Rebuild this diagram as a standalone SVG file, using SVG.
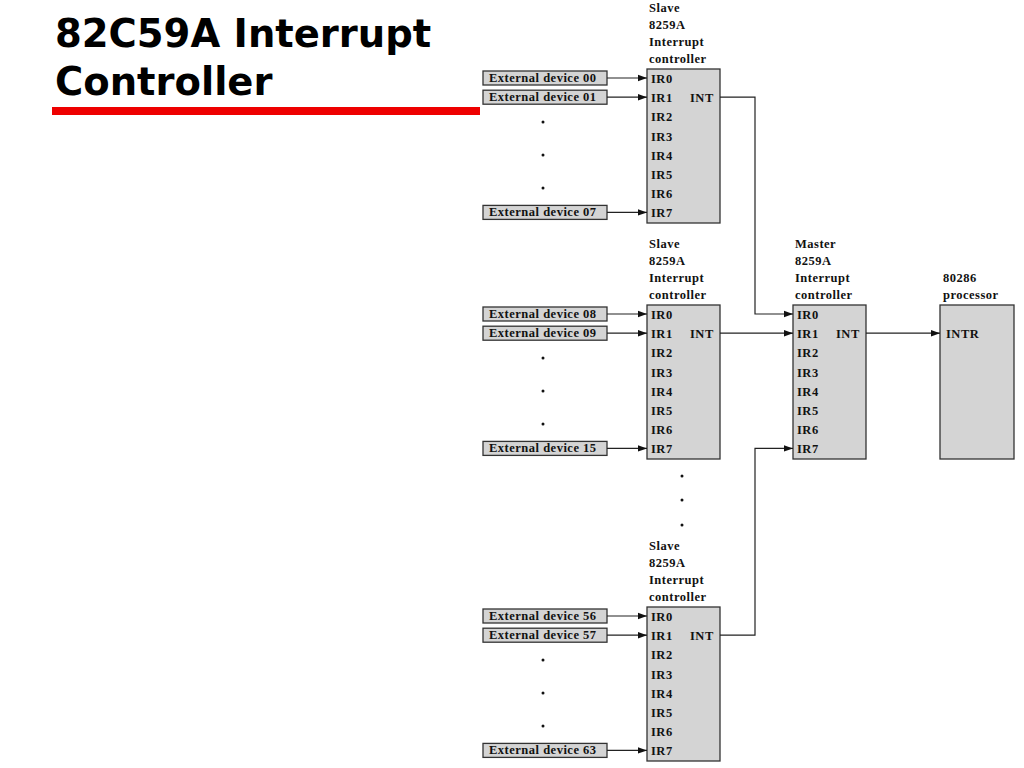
<svg xmlns="http://www.w3.org/2000/svg" width="1024" height="768" viewBox="0 0 1024 768">
<defs>
<style>
.title{font-family:"DejaVu Sans",Verdana,sans-serif;font-weight:bold;font-size:38.5px;fill:#000}
.t{font-family:"Liberation Serif","Times New Roman",serif;font-weight:bold;font-size:12.5px;letter-spacing:0.5px;fill:#111}
.box{fill:#d4d4d4;stroke:#333;stroke-width:1.3}
.dev{fill:#d4d4d4;stroke:#333;stroke-width:1.3}
.ln{fill:none;stroke:#222;stroke-width:1.2}
.dot{fill:#111}
</style>
<marker id="ah" markerWidth="10" markerHeight="8" refX="9" refY="4" orient="auto" markerUnits="userSpaceOnUse">
<path d="M0,0.8 L9,4 L0,7.2 Z" fill="#111"/>
</marker>
<g id="chip">
<rect class="box" x="647" y="0" width="73" height="154"/>
<text class="t" x="651" y="14">IR0</text>
<text class="t" x="651" y="33.2">IR1</text>
<text class="t" x="651" y="52.4">IR2</text>
<text class="t" x="651" y="71.6">IR3</text>
<text class="t" x="651" y="90.8">IR4</text>
<text class="t" x="651" y="110">IR5</text>
<text class="t" x="651" y="129.2">IR6</text>
<text class="t" x="651" y="148.4">IR7</text>
<text class="t" x="690" y="33.2">INT</text>
</g>
</defs>
<rect width="1024" height="768" fill="#fff"/>
<g id="title">
<text class="title" x="55" y="47">82C59A Interrupt</text>
<text class="title" x="55" y="95">Controller</text>
<rect x="52" y="107" width="428" height="8" fill="#ee0000"/>
</g>

<g id="slave1" transform="translate(0,69)">
<text class="t" x="649" y="-57">Slave</text>
<text class="t" x="649" y="-40">8259A</text>
<text class="t" x="649" y="-23">Interrupt</text>
<text class="t" x="649" y="-6">controller</text>
<use href="#chip"/>
<rect class="dev" x="483" y="2" width="124" height="14"/>
<text class="t" x="489" y="13">External device 00</text>
<rect class="dev" x="483" y="21.2" width="124" height="14"/>
<text class="t" x="489" y="32.2">External device 01</text>
<rect class="dev" x="483" y="136.4" width="124" height="14"/>
<text class="t" x="489" y="147.4">External device 07</text>
<circle class="dot" cx="543" cy="53" r="1.5"/>
<circle class="dot" cx="543" cy="86" r="1.5"/>
<circle class="dot" cx="543" cy="119" r="1.5"/>
</g>

<g id="slave2" transform="translate(0,305)">
<text class="t" x="649" y="-57">Slave</text>
<text class="t" x="649" y="-40">8259A</text>
<text class="t" x="649" y="-23">Interrupt</text>
<text class="t" x="649" y="-6">controller</text>
<use href="#chip"/>
<rect class="dev" x="483" y="2" width="124" height="14"/>
<text class="t" x="489" y="13">External device 08</text>
<rect class="dev" x="483" y="21.2" width="124" height="14"/>
<text class="t" x="489" y="32.2">External device 09</text>
<rect class="dev" x="483" y="136.4" width="124" height="14"/>
<text class="t" x="489" y="147.4">External device 15</text>
<circle class="dot" cx="543" cy="53" r="1.5"/>
<circle class="dot" cx="543" cy="86" r="1.5"/>
<circle class="dot" cx="543" cy="119" r="1.5"/>
</g>

<g id="slave3" transform="translate(0,607)">
<text class="t" x="649" y="-57">Slave</text>
<text class="t" x="649" y="-40">8259A</text>
<text class="t" x="649" y="-23">Interrupt</text>
<text class="t" x="649" y="-6">controller</text>
<use href="#chip"/>
<rect class="dev" x="483" y="2" width="124" height="14"/>
<text class="t" x="489" y="13">External device 56</text>
<rect class="dev" x="483" y="21.2" width="124" height="14"/>
<text class="t" x="489" y="32.2">External device 57</text>
<rect class="dev" x="483" y="136.4" width="124" height="14"/>
<text class="t" x="489" y="147.4">External device 63</text>
<circle class="dot" cx="543" cy="53" r="1.5"/>
<circle class="dot" cx="543" cy="86" r="1.5"/>
<circle class="dot" cx="543" cy="119" r="1.5"/>
</g>

<g id="more-slaves">
<circle class="dot" cx="682" cy="476" r="1.5"/>
<circle class="dot" cx="682" cy="500" r="1.5"/>
<circle class="dot" cx="682" cy="525" r="1.5"/>
</g>

<g id="master" transform="translate(146,305)">
<text class="t" x="649" y="-57">Master</text>
<text class="t" x="649" y="-40">8259A</text>
<text class="t" x="649" y="-23">Interrupt</text>
<text class="t" x="649" y="-6">controller</text>
<use href="#chip"/>
</g>

<g id="cpu">
<text class="t" x="943" y="282">80286</text>
<text class="t" x="943" y="299">processor</text>
<rect class="box" x="940" y="305" width="74" height="154"/>
<text class="t" x="946" y="338.2">INTR</text>
</g>

<g id="connectors">
<line class="ln" x1="607" y1="78" x2="647" y2="78" marker-end="url(#ah)"/>
<line class="ln" x1="607" y1="97.2" x2="647" y2="97.2" marker-end="url(#ah)"/>
<line class="ln" x1="607" y1="212.4" x2="647" y2="212.4" marker-end="url(#ah)"/>
<line class="ln" x1="607" y1="314" x2="647" y2="314" marker-end="url(#ah)"/>
<line class="ln" x1="607" y1="333.2" x2="647" y2="333.2" marker-end="url(#ah)"/>
<line class="ln" x1="607" y1="448.4" x2="647" y2="448.4" marker-end="url(#ah)"/>
<line class="ln" x1="607" y1="616" x2="647" y2="616" marker-end="url(#ah)"/>
<line class="ln" x1="607" y1="635.2" x2="647" y2="635.2" marker-end="url(#ah)"/>
<line class="ln" x1="607" y1="750.4" x2="647" y2="750.4" marker-end="url(#ah)"/>
<polyline class="ln" points="720,97.2 755,97.2 755,314 793,314" marker-end="url(#ah)"/>
<line class="ln" x1="720" y1="333.2" x2="793" y2="333.2" marker-end="url(#ah)"/>
<polyline class="ln" points="720,635.2 755,635.2 755,448.4 793,448.4" marker-end="url(#ah)"/>
<line class="ln" x1="866" y1="333.2" x2="940" y2="333.2" marker-end="url(#ah)"/>
</g>
</svg>
